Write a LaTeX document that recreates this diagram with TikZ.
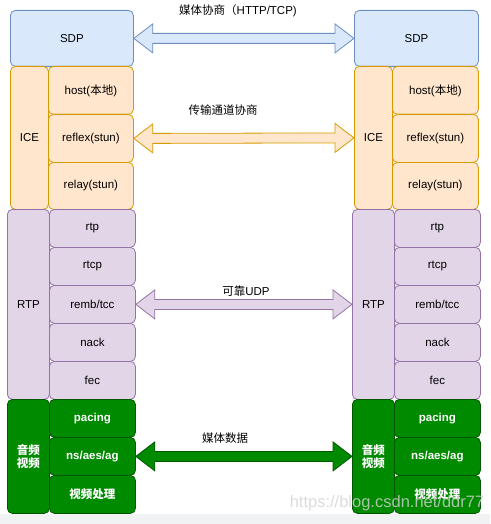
\documentclass[tikz,border=0pt]{standalone}
\usepackage{fontspec}
\setmainfont{Liberation Sans}
\newfontfamily\cjk{Noto Sans CJK SC}
\usetikzlibrary{calc}
\definecolor{sdpfill}{HTML}{DAE8FC}
\definecolor{sdpline}{HTML}{6C8EBF}
\definecolor{icefill}{HTML}{FFE6CC}
\definecolor{iceline}{HTML}{D79B00}
\definecolor{rtpfill}{HTML}{E1D5E7}
\definecolor{rtpline}{HTML}{9673A6}
\definecolor{avfill}{HTML}{008A00}
\definecolor{avline}{HTML}{005700}
\definecolor{bandgray}{HTML}{F1F2F4}
\newcommand{\zh}[1]{{\cjk #1}}
% block arrow with two heads, tip on tip
\newcommand{\dblarrow}[3]{%
	\draw[#3] (#1.east) -- ++(19,-14.5) -- ++(0,9.5) -- ($(#2.west)+(-19,-5)$)
		-- ++(0,-9.5) -- (#2.west) -- ++(-19,14.5) -- ++(0,-9.5)
		-- ($(#1.east)+(19,5)$) -- ++(0,9.5) -- cycle;}

\begin{document}
\begin{tikzpicture}[x=1pt, y=-1pt,
	every node/.style={font=\fontsize{11.5}{13.5}\selectfont},
	layer/.style={rectangle, rounded corners=5pt, line width=0.8pt, inner sep=0pt, anchor=north west},
	sdpbox/.style={layer, fill=sdpfill, draw=sdpline},
	icebox/.style={layer, fill=icefill, draw=iceline},
	rtpbox/.style={layer, fill=rtpfill, draw=rtpline},
	avbox/.style={layer, fill=avfill, draw=avline, text=white, font=\fontsize{11.5}{13.5}\selectfont\bfseries, align=center},
	sdparrow/.style={fill=sdpfill, draw=sdpline, line width=0.8pt},
	icearrow/.style={fill=icefill, draw=iceline, line width=0.8pt},
	rtparrow/.style={fill=rtpfill, draw=rtpline, line width=0.8pt},
	avarrow/.style={fill=avfill, draw=avline, line width=0.8pt},
	tag/.style={fill=white, inner sep=1pt}]
	\useasboundingbox (0,0) rectangle (490,524);
	\fill[bandgray] (0,514) rectangle (490,524);

	% left side
	\node[sdpbox, minimum width=123, minimum height=56] (sdpL) at (10,10) {SDP};
	\node[icebox, minimum width=38, minimum height=143] (iceL) at (10,66) {ICE};
	\node[icebox, minimum width=85, minimum height=48] (hostL) at (48,66) {host(\zh{本地})};
	\node[icebox, minimum width=85, minimum height=48] (reflexL) at (48,114) {reflex(stun)};
	\node[icebox, minimum width=85, minimum height=47] (relayL) at (48,162) {relay(stun)};
	\node[rtpbox, minimum width=42, minimum height=190] (rtpL) at (7,209) {RTP};
	\node[rtpbox, minimum width=86, minimum height=38] (rtpsubL) at (49,209) {rtp};
	\node[rtpbox, minimum width=86, minimum height=38] (rtcpL) at (49,247) {rtcp};
	\node[rtpbox, minimum width=86, minimum height=38] (rembL) at (49,285) {remb/tcc};
	\node[rtpbox, minimum width=86, minimum height=38] (nackL) at (49,323) {nack};
	\node[rtpbox, minimum width=86, minimum height=38] (fecL) at (49,361) {fec};
	\node[avbox, minimum width=42, minimum height=114] (avL) at (7,399) {\zh{音频}\\\zh{视频}};
	\node[avbox, minimum width=86, minimum height=38] (pacingL) at (49,399) {pacing};
	\node[avbox, minimum width=86, minimum height=38] (nsL) at (49,437) {ns/aes/ag};
	\node[avbox, minimum width=86, minimum height=38] (videoL) at (49,475) {\zh{视频处理}};

	% right side
	\node[sdpbox, minimum width=124, minimum height=56] (sdpR) at (354,10) {SDP};
	\node[icebox, minimum width=38, minimum height=143] (iceR) at (354,66) {ICE};
	\node[icebox, minimum width=86, minimum height=48] (hostR) at (392,66) {host(\zh{本地})};
	\node[icebox, minimum width=86, minimum height=48] (reflexR) at (392,114) {reflex(stun)};
	\node[icebox, minimum width=86, minimum height=47] (relayR) at (392,162) {relay(stun)};
	\node[rtpbox, minimum width=42, minimum height=190] (rtpR) at (352,209) {RTP};
	\node[rtpbox, minimum width=86, minimum height=38] (rtpsubR) at (394,209) {rtp};
	\node[rtpbox, minimum width=86, minimum height=38] (rtcpR) at (394,247) {rtcp};
	\node[rtpbox, minimum width=86, minimum height=38] (rembR) at (394,285) {remb/tcc};
	\node[rtpbox, minimum width=86, minimum height=38] (nackR) at (394,323) {nack};
	\node[rtpbox, minimum width=86, minimum height=38] (fecR) at (394,361) {fec};
	\node[avbox, minimum width=42, minimum height=114] (avR) at (352,399) {\zh{音频}\\\zh{视频}};
	\node[avbox, minimum width=86, minimum height=38] (pacingR) at (394,399) {pacing};
	\node[avbox, minimum width=86, minimum height=38] (nsR) at (394,437) {ns/aes/ag};
	\node[avbox, minimum width=86, minimum height=38] (videoR) at (394,475) {\zh{视频处理}};

	% arrows between the two sides
	\dblarrow{sdpL}{sdpR}{sdparrow}
	\dblarrow{reflexL}{iceR}{icearrow}
	\dblarrow{rembL}{rtpR}{rtparrow}
	\dblarrow{nsL}{avR}{avarrow}

	\node (sdptag) at (238,11) {\zh{媒体协商（}HTTP/TCP)};
	\node (icetag) at (223,110) {\zh{传输通道协商}};
	\node[tag] (rtptag) at (246,291) {\zh{可靠}UDP};
	\node[tag] (avtag) at (225,438) {\zh{媒体数据}};

	\node[text=gray!35, opacity=0.8, font=\fontsize{16.5}{18}\selectfont] (mark) at (387,503) {https://blog.csdn.net/ddr77};
\end{tikzpicture}
\end{document}
